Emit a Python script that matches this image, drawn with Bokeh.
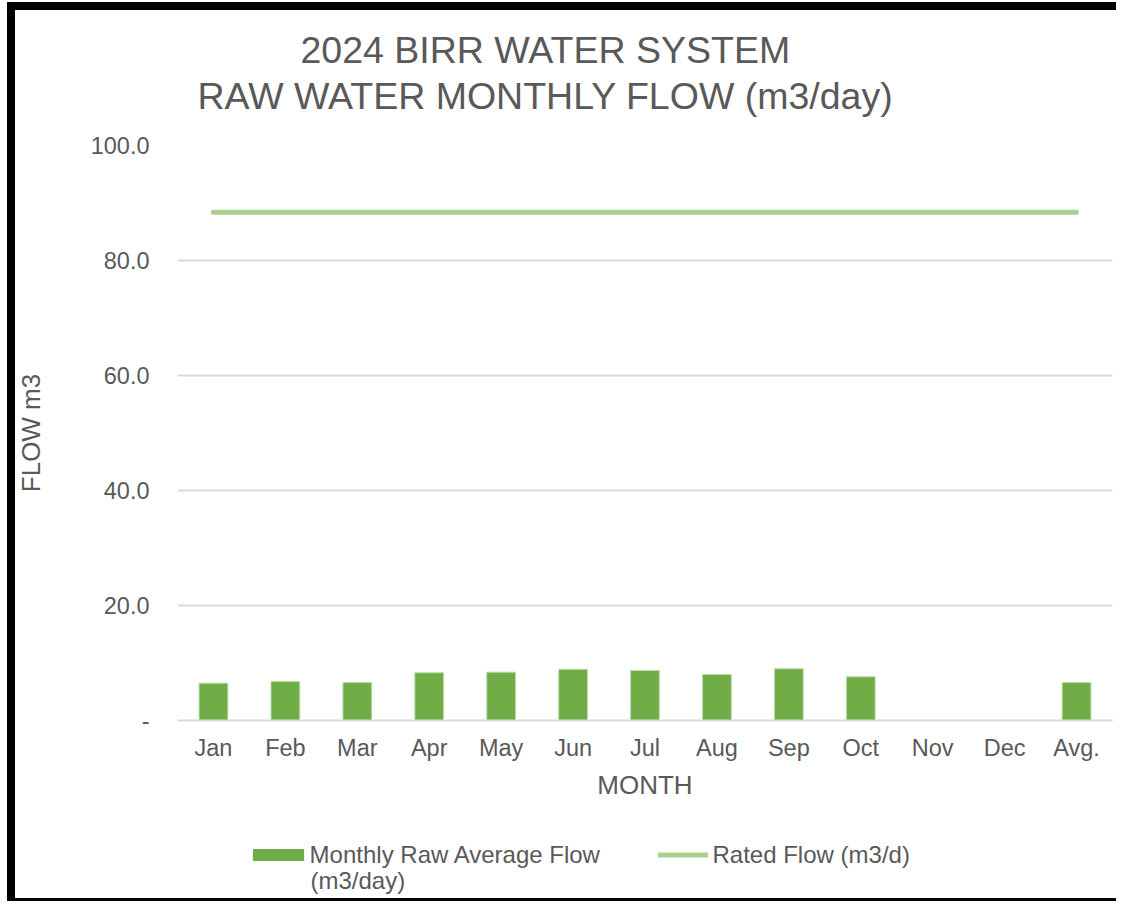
import numpy as np
from bokeh.plotting import figure
from bokeh.layouts import column
from bokeh.models import (ColumnDataSource, FactorRange, Range1d, FixedTicker,
                          Legend, LegendItem, Title, Label)
from bokeh.embed import file_html
from bokeh.resources import INLINE

# ---------------- data ----------------
months = ["Jan", "Feb", "Mar", "Apr", "May", "Jun", "Jul", "Aug", "Sep", "Oct", "Nov", "Dec", "Avg."]
monthly_flow = [6.5, 6.8, 6.6, 8.3, 8.4, 8.9, 8.7, 8.0, 9.0, 7.6, None, None, 6.6]
rated_flow = [88.4, 88.4, 88.4, 88.4, 88.4, 88.4, 88.4, 88.4, 88.4, 88.4, 88.4, 88.4, 88.4]
y_ticks = [0, 20, 40, 60, 80, 100]
y_tick_labels = ["-", "20.0", "40.0", "60.0", "80.0", "100.0"]
title_lines = ["2024 BIRR WATER SYSTEM", "RAW WATER MONTHLY FLOW (m3/day)"]
x_title = "MONTH"
y_title = "FLOW m3"
series_names = ["Monthly Raw Average Flow\n(m3/day)", "Rated Flow (m3/d)"]

# ---------------- style ----------------
FONT = "Liberation Sans"
TXT = "#595959"
BAR = "#70AD47"
LINE = "#A9D18E"
GRID = "#D9D9D9"

src = ColumnDataSource(dict(
    month=months,
    flow=np.array([np.nan if v is None else v for v in monthly_flow], dtype=float),
    rated=rated_flow,
))

# ================= main chart =================
p = figure(x_range=FactorRange(*months, range_padding=0), y_range=Range1d(0, 100),
           width=1116, height=830, output_backend="svg", toolbar_location=None,
           min_border_left=177, min_border_right=4, min_border_top=145, min_border_bottom=110)
p.title.text = ""
p.outline_line_color = None
p.border_fill_alpha = 0
p.styles = {"box-shadow": "inset 7px 2px 0 0 #ffffff, inset 15px 10px 0 0 #000000"}

p.vbar(x="month", top="flow", width=0.4, source=src,
       fill_color=BAR, line_color="#B9DDA3", line_width=1)
p.line(x="month", y="rated", source=src, line_color=LINE, line_width=5, line_cap="round")

# axes
p.yaxis.ticker = FixedTicker(ticks=y_ticks)
p.yaxis.major_label_overrides = {t: l for t, l in zip(y_ticks, y_tick_labels)}
p.yaxis.axis_line_color = None
p.yaxis.major_tick_line_color = None
p.yaxis.minor_tick_line_color = None
p.yaxis.major_tick_out = 0
p.yaxis.major_tick_in = 0
p.yaxis.major_label_standoff = 28
p.yaxis.axis_label = y_title
p.yaxis.axis_label_standoff = 42

p.xaxis.axis_line_color = GRID
p.xaxis.axis_line_width = 2
p.xaxis.major_tick_line_color = None
p.xaxis.minor_tick_line_color = None
p.xaxis.major_tick_out = 0
p.xaxis.major_tick_in = 0
p.xaxis.major_label_standoff = 14
p.xaxis.axis_label = x_title
p.xaxis.axis_label_standoff = 6

for ax in (p.xaxis, p.yaxis):
    ax.major_label_text_font = FONT
    ax.major_label_text_font_size = "23.5px"
    ax.major_label_text_color = TXT
    ax.axis_label_text_font = FONT
    ax.axis_label_text_font_size = "26px"
    ax.axis_label_text_font_style = "normal"
    ax.axis_label_text_color = TXT

p.xgrid.grid_line_color = None
p.ygrid.ticker = FixedTicker(ticks=y_ticks)
p.ygrid.grid_line_color = GRID
p.ygrid.grid_line_width = 2

# title: spacer next to the frame, then line 2, then line 1
p.add_layout(Title(text=" ", text_font_size="1px", standoff=25), "above")
for txt, off in [(title_lines[1], 20), (title_lines[0], 123)]:
    p.add_layout(Title(text=txt, align="left", offset=off, text_font=FONT,
                       text_font_size="37.5px", text_font_style="normal",
                       text_color=TXT, standoff=2), "above")

# ================= legend strip =================
H2 = 71
lg = figure(x_range=FactorRange(*months), y_range=Range1d(1000, 1100),
            width=1116, height=H2, output_backend="svg", toolbar_location=None,
            min_border=0, x_axis_location=None, y_axis_location=None)
lg.title.text = ""
lg.grid.grid_line_color = None
lg.outline_line_color = None
lg.background_fill_alpha = 0
lg.border_fill_alpha = 0
lg.styles = {"box-shadow": "inset 7px 0 0 0 #ffffff, inset 15px 0 0 0 #000000, "
                           "inset 0 -3px 0 0 #000000"}

# legend proxies drawn from the same data, kept outside the visible y-range
bar_proxy = lg.vbar(x="month", top="flow", width=0.4, source=src, fill_color=BAR, line_color=None)
line_proxy = lg.line(x="month", y="rated", source=src, line_color=LINE, line_width=5, line_cap="round")

name1_lines = series_names[0].split("\n")
common = dict(orientation="horizontal", padding=0, margin=0, border_line_color=None,
              background_fill_alpha=0, label_text_font=FONT, label_text_font_size="24px",
              label_text_color=TXT)
legA = Legend(items=[LegendItem(label=name1_lines[0], renderers=[bar_proxy])],
              location=(68.6, 32.5), glyph_width=64, glyph_height=15, label_standoff=0, **common)
legB = Legend(items=[LegendItem(label=series_names[1], renderers=[line_proxy])],
              location=(480.5, 32.5), glyph_width=50, glyph_height=15, label_standoff=5, **common)
lg.add_layout(legA)
lg.add_layout(legB)
lg.add_layout(Label(x=133, y=21, x_units="screen", y_units="screen", text=name1_lines[1],
                    text_align="left", text_baseline="middle", text_font=FONT,
                    text_font_size="24px", text_color=TXT))

layout = column(p, lg, spacing=0)
open("out.html", "w").write(file_html(layout, INLINE))
